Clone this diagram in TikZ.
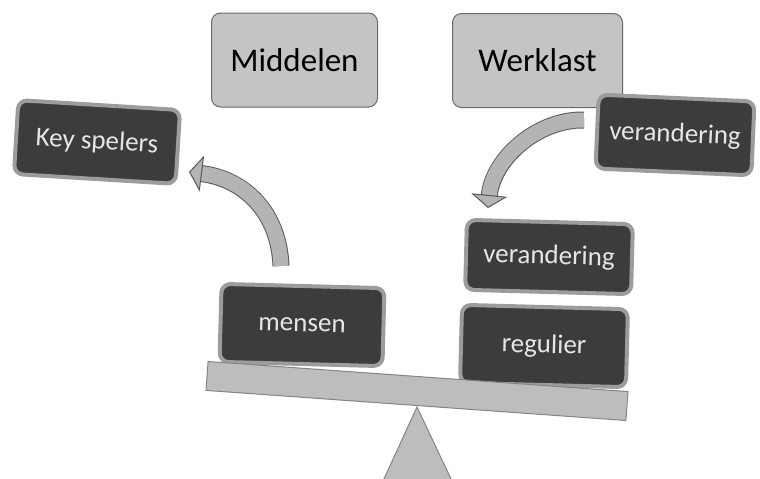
\documentclass[tikz,border=0pt]{standalone}
\usepackage{fontspec}
\setmainfont{Carlito}
\usetikzlibrary{arrows.meta}
\definecolor{boxlight}{HTML}{C4C4C4}
\definecolor{boxedge}{HTML}{6A6A6A}
\definecolor{boxdark}{HTML}{3C3C3C}
\definecolor{halo}{HTML}{9C9C9C}
\definecolor{txtlight}{HTML}{E6E6E6}
\definecolor{arrowfill}{HTML}{B4B4B4}
\definecolor{arrowedge}{HTML}{5A5A5A}
\definecolor{plank}{HTML}{BDBDBD}
\definecolor{plankedge}{HTML}{858585}
\tikzset{
  lightbox/.style={rectangle, rounded corners=9pt, fill=boxlight, draw=boxedge,
    line width=1pt, inner sep=0pt, font=\fontsize{33}{36}\selectfont, text=black},
  darkbox/.style={rectangle, rounded corners=9pt, fill=boxdark, draw=halo,
    line width=4pt, inner sep=0pt, font=\fontsize{27}{30}\selectfont, text=txtlight},
  bendarrowedge/.style={draw=arrowedge, line width=17pt},
  bendarrow/.style={draw=arrowfill, line width=15pt,
    -{Triangle[length=13pt,width=36pt,fill=arrowfill,color=arrowedge,line width=1pt]}},
}
\begin{document}
\begin{tikzpicture}[x=1pt,y=-1pt]
\useasboundingbox (0,0) rectangle (760,479);

% top resource boxes
\node[lightbox, minimum width=166pt, minimum height=94pt] (middelen) at (294.5,60) {Middelen};
\node[lightbox, minimum width=170pt, minimum height=94pt] (werklast) at (537.5,60.5) {Werklast};

% dark labels
\node[darkbox, minimum width=162pt, minimum height=74pt, rotate=-3.5] (key) at (97,142) {Key spelers};
\node[darkbox, minimum width=156pt, minimum height=74pt, rotate=-2.5] (verTop) at (675,135) {verandering};
\node[darkbox, minimum width=166pt, minimum height=70pt, rotate=-1.5] (verMid) at (549,257) {verandering};
\node[darkbox, minimum width=166pt, minimum height=78pt, rotate=-1.5] (regulier) at (544,346) {regulier};
\node[darkbox, minimum width=163pt, minimum height=78pt, rotate=-1.5] (mensen) at (302,325) {mensen};

% balance: plank and fulcrum
\node[rectangle, fill=plank, draw=plankedge, line width=1pt, inner sep=0pt,
      minimum width=421pt, minimum height=29pt, rotate=-4.1] (plank) at (417,391) {};
\coordinate (apex) at (417,407);
\coordinate (baseL) at (383,481);
\coordinate (baseR) at (452,481);
\draw[fill=plank, draw=plankedge, line width=1pt] (apex) -- (baseL) -- (baseR) -- cycle;

% bent arrows
\coordinate (wStart) at (584,120);
\coordinate (wEnd) at (488,208);
\draw[bendarrowedge, shorten >=12pt] (wStart) .. controls (538,119) and (493,158) .. (wEnd);
\draw[bendarrow] (wStart) .. controls (538,119) and (493,158) .. (wEnd);

\coordinate (mStart) at (281,266);
\coordinate (mEnd) at (189,172);
\draw[bendarrowedge, shorten >=12pt] (mStart) .. controls (279,214) and (246,179) .. (mEnd);
\draw[bendarrow] (mStart) .. controls (279,214) and (246,179) .. (mEnd);
\end{tikzpicture}
\end{document}
